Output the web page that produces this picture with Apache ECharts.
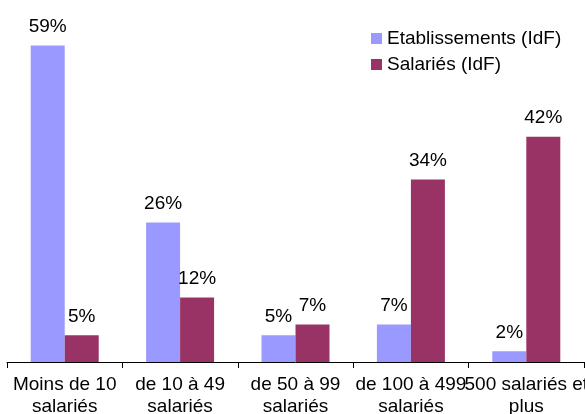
<!DOCTYPE html>
<html>
<head>
<meta charset="utf-8">
<script src="https://cdn.jsdelivr.net/npm/echarts@6/dist/echarts.min.js"></script>
<style>
  html, body { margin: 0; padding: 0; background: #fff; }
  #chart { width: 585px; height: 414px; }
</style>
</head>
<body>
<div id="chart"></div>
<script>
// Répartition par taille d'établissement (IdF)
const categories = ['Moins de 10\nsalariés', 'de 10 à 49\nsalariés', 'de 50 à 99\nsalariés', 'de 100 à 499\nsalariés', '500 salariés et\nplus']
const etablissements = [59, 26, 5, 7, 2]
const salaries = [5, 12, 7, 34, 42]

const chart = echarts.init(document.getElementById('chart'))
const font = 'Liberation Sans, Arial, sans-serif'
const label = {
  show: true, position: 'top', distance: 9, formatter: '{c}%',
  color: '#000', fontSize: 19, fontFamily: font,
}

chart.setOption({
  animation: false,
  textStyle: { fontFamily: font },
  grid: { left: 7, right: 1, top: 24, bottom: 52, outerBoundsMode: 'none' },
  legend: {
    orient: 'vertical', left: 366, top: 24, itemGap: 7, itemSize: 11,
    icon: 'rect', itemWidth: 11, itemHeight: 11, itemStyle: { borderWidth: 0 },
    textStyle: { color: '#000', fontSize: 19, fontFamily: font },
    data: ['Etablissements (IdF)', 'Salariés (IdF)'],
  },
  xAxis: {
    type: 'category', data: categories,
    axisLine: { lineStyle: { color: '#000', width: 1 } },
    axisTick: { show: true, length: 6, lineStyle: { color: '#000' } },
    axisLabel: { color: '#000', fontSize: 19, lineHeight: 22, margin: 12, interval: 0, fontFamily: font, hideOverlap: false },
  },
  yAxis: {
    type: 'value', min: 0, max: 63, show: false,
    splitLine: { show: false },
  },
  series: [
    { name: 'Etablissements (IdF)', type: 'bar', data: etablissements, barWidth: 34, barGap: '0%',
      itemStyle: { color: '#9999FF' }, label },
    { name: 'Salariés (IdF)', type: 'bar', data: salaries, barWidth: 34, barGap: '0%',
      itemStyle: { color: '#993366' }, label },
  ],
})
</script>
</body>
</html>
